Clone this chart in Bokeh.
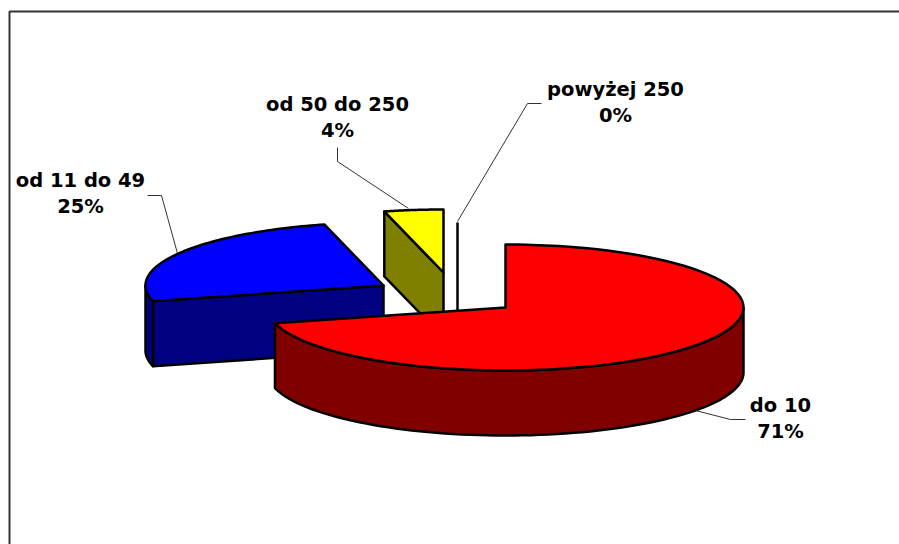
import numpy as np
from bokeh.plotting import figure
from bokeh.models import Range1d
from bokeh.embed import file_html
from bokeh.resources import INLINE
from bokeh.core.properties import value

categories = ["do 10", "od 11 do 49", "od 50 do 250", "powyżej 250"]
shares = [71, 25, 4, 0]
percent_labels = ["71%", "25%", "4%", "0%"]
top_colors = ["#ff0000", "#0000ff", "#ffff00", "#ffffff"]
side_colors = ["#800000", "#000080", "#808000", "#808080"]

# exploded-pie layout, in page pixels
centers = [(505, 307), (383, 285), (443, 272), (457, 285)]
RX, RY, DEPTH = 238, 63, 65
label_pos = [(780, 405), (80, 180), (337, 104), (615, 89)]
leaders = [
    ([745, 730, 695], [419, 419, 410]),
    ([147, 161, 177], [195, 195, 253]),
    ([337, 337, 408], [147, 161, 208]),
    ([541, 527, 457], [103, 103, 221]),
]

W, H = 899, 544
p = figure(width=W, height=H, output_backend="svg", toolbar_location=None,
           x_range=Range1d(0, W), y_range=Range1d(H, 0),
           min_border=0, outline_line_color=None)
p.axis.visible = False
p.grid.visible = False

# frame: left and top edges only reach the picture
p.line([9, 9, 899], [544, 11, 11], line_color="#333333", line_width=2)


def arc(c, a0, a1, dz=0.0, n=80):
    """Angles in degrees clockwise from north."""
    t = np.radians(np.linspace(a0, a1, n))
    return c[0] + RX * np.sin(t), c[1] - RY * np.cos(t) + dz


# cumulative start / end angle of each slice
ends = np.cumsum(shares) * 3.6
starts = ends - np.array(shares) * 3.6
BL = dict(line_color="black", line_width=2.5, line_join="round")


def draw(i):
    c = centers[i]
    a0, a1 = starts[i], ends[i]
    # cut faces that look towards the viewer
    for a, visible in ((a0, 180 < a0 < 360), (a1, 0 < a1 < 180)):
        if visible:
            xe, ye = arc(c, a, a, n=1)
            p.patch([c[0], xe[0], xe[0], c[0]],
                    [c[1], ye[0], ye[0] + DEPTH, c[1] + DEPTH],
                    fill_color=side_colors[i], **BL)
    # outer wall: only the front half (90..270 deg) faces the viewer
    w0, w1 = max(a0, 90), min(a1, 270)
    if w1 > w0:
        x, y = arc(c, w0, w1)
        xb, yb = arc(c, w1, w0, DEPTH)
        p.patch(np.r_[x, xb], np.r_[y, yb], fill_color=side_colors[i], **BL)
    # top
    x, y = arc(c, a0, a1)
    p.patch(np.r_[c[0], x], np.r_[c[1], y], fill_color=top_colors[i], **BL)


# zero-size slice: only its vertical edge shows
c = centers[3]
p.line([c[0], c[0]], [c[1] - RY, c[1] + DEPTH], line_color="black", line_width=2.5)

for i in (2, 1, 0):
    draw(i)

for xs, ys in leaders:
    p.line(xs, ys, line_color="#333333", line_width=1)

for i, name in enumerate(categories):
    lx, ly = label_pos[i]
    for text, yy in ((name, ly), (percent_labels[i], ly + 26)):
        p.text([lx], [yy], text=[text], text_font=value("DejaVu Sans"),
               text_font_style="bold", text_font_size="19.5px",
               text_align="center", text_baseline="middle", text_color="black")

open("out.html", "w").write(file_html(p, INLINE))
